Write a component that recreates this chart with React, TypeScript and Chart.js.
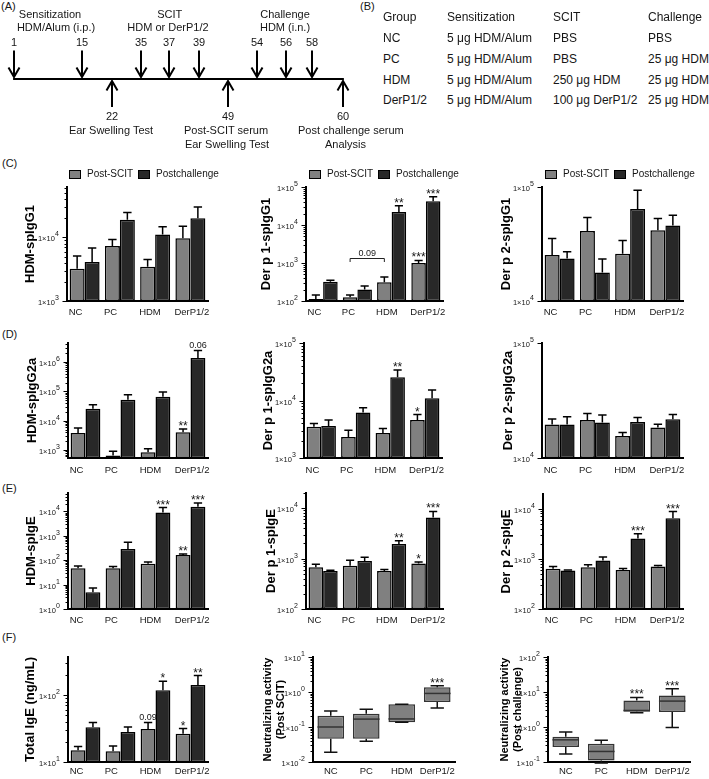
import React, { useEffect, useRef } from 'react';
import { Chart, registerables } from 'chart.js';

Chart.register(...registerables);

const FONT = '"Liberation Sans", Arial, Helvetica, sans-serif';
const GRAY = '#808080';
const DARK = '#282828';
const INK = '#161616';

// ---------------- data ----------------
const groups = ['NC', 'PC', 'HDM', 'DerP1/2'];
const seriesNames = ['Post-SCIT', 'Postchallenge'];

// (A) timeline (schematic, not to scale)
const timelineDays = [1, 15, 22, 35, 37, 39, 49, 54, 56, 58, 60];
const timelineSlots = [0, 2.31, 3.33, 4.32, 5.27, 6.29, 7.28, 8.27, 9.25, 10.14, 11.19];
const timelineDirs = ['down', 'down', 'up', 'down', 'down', 'down', 'up', 'down', 'down', 'down', 'up'];

// (B) table
const tableHeader = ['Group', 'Sensitization', 'SCIT', 'Challenge'];
const tableRows = [
  ['NC', '5 μg HDM/Alum', 'PBS', 'PBS'],
  ['PC', '5 μg HDM/Alum', 'PBS', '25 μg HDM'],
  ['HDM', '5 μg HDM/Alum', '250 μg HDM', '25 μg HDM'],
  ['DerP1/2', '5 μg HDM/Alum', '100 μg DerP1/2', '25 μg HDM'],
];

// (C) IgG1
const hdmIgG1Post = [3200, 7300, 3450, 9700];
const hdmIgG1PostErr = [5100, 9300, 4500, 15000];
const hdmIgG1Chal = [4100, 19000, 11100, 20000];
const hdmIgG1ChalErr = [6800, 24600, 14700, 30000];

const derp1IgG1Post = [113, 125, 310, 1000];
const derp1IgG1PostErr = [144, 144, 430, 1170];
const derp1IgG1Chal = [320, 200, 22000, 42000];
const derp1IgG1ChalErr = [350, 248, 32000, 55000];

const derp2IgG1Post = [25300, 41200, 26000, 41800];
const derp2IgG1PostErr = [35400, 54000, 34000, 53000];
const derp2IgG1Chal = [23600, 17800, 64000, 46000];
const derp2IgG1ChalErr = [27000, 23300, 93500, 56500];

// (D) IgG2a
const hdmIgG2aPost = [3800, 650, 830, 4000];
const hdmIgG2aPostErr = [5600, 900, 1100, 5200];
const hdmIgG2aChal = [25700, 52000, 66000, 1380000];
const hdmIgG2aChalErr = [35000, 77000, 95000, 2500000];

const derp1IgG2aPost = [3500, 2330, 2730, 4570];
const derp1IgG2aPostErr = [4000, 3050, 3260, 5700];
const derp1IgG2aChal = [3600, 6200, 25400, 10900];
const derp1IgG2aChalErr = [4600, 7500, 34000, 15200];

const derp2IgG2aPost = [19600, 21400, 15500, 18400];
const derp2IgG2aPostErr = [21800, 24400, 16700, 19700];
const derp2IgG2aChal = [19600, 20400, 20600, 21700];
const derp2IgG2aChalErr = [22800, 23600, 22500, 23900];

// (E) IgE
const hdmIgEPost = [47, 47, 71, 164];
const hdmIgEPostErr = [58, 55, 85, 181];
const hdmIgEChal = [4.9, 290, 9100, 15400];
const hdmIgEChalErr = [7.2, 540, 14500, 22400];

const derp1IgEPost = [670, 720, 570, 800];
const derp1IgEPostErr = [770, 930, 610, 860];
const derp1IgEChal = [570, 900, 1950, 6500];
const derp1IgEChalErr = [590, 1060, 2270, 8600];

const derp2IgEPost = [630, 680, 600, 700];
const derp2IgEPostErr = [700, 760, 640, 736];
const derp2IgEChal = [585, 925, 2530, 6450];
const derp2IgEChalErr = [600, 1080, 3140, 8700];

// (F) total IgE and neutralizing activity
const totalIgEPost = [15, 14.5, 31, 26.5];
const totalIgEPostErr = [17, 17.4, 39, 31.6];
const totalIgEChal = [33, 28, 118, 141];
const totalIgEChalErr = [39, 33.4, 161, 195];

const neutScitMin = [0.019, 0.039, 0.137, 0.35];
const neutScitQ1 = [0.046, 0.046, 0.137, 0.52];
const neutScitMed = [0.1, 0.168, 0.17, 0.91];
const neutScitQ3 = [0.21, 0.24, 0.45, 1.36];
const neutScitMax = [0.285, 0.32, 0.45, 1.5];

const neutChalMin = [0.17, 0.093, 2.57, 0.97];
const neutChalQ1 = [0.27, 0.11, 2.74, 2.7];
const neutChalMed = [0.43, 0.2, 2.97, 5.5];
const neutChalQ3 = [0.53, 0.33, 5.7, 7.9];
const neutChalMax = [0.72, 0.42, 7.0, 12.3];

// significance marks: [group, series, text]
const derp1IgG1Marks = [[2, 1, '**'], [3, 1, '***'], [3, 0, '***']];
const hdmIgG2aMarks = [[3, 0, '**'], [3, 1, '0.06']];
const derp1IgG2aMarks = [[2, 1, '**'], [3, 0, '*']];
const hdmIgEMarks = [[2, 1, '***'], [3, 1, '***'], [3, 0, '**']];
const derp1IgEMarks = [[2, 1, '**'], [3, 0, '*'], [3, 1, '***']];
const derp2IgEMarks = [[2, 1, '***'], [3, 1, '***']];
const totalIgEMarks = [[2, 0, '0.09'], [2, 1, '*'], [3, 0, '*'], [3, 1, '**']];
const neutScitMarks = [[3, '***']];
const neutChalMarks = [[2, '***'], [3, '***']];

// ---------------- layout specs ----------------
const barPanels = [
  { key: 'c1', canvas: [0, 171, 218, 151], plot: [67, 187, 208, 301], titleX: 30, titleSize: 13, title: 'HDM-spIgG1',
    min: 1e3, max: 6.2e4, minor: true, xPad: 6, post: hdmIgG1Post, postErr: hdmIgG1PostErr, chal: hdmIgG1Chal, chalErr: hdmIgG1ChalErr, marks: [] },
  { key: 'c2', canvas: [235, 171, 218, 151], plot: [306, 187, 443, 301], titleX: 266.7, titleSize: 13, title: 'Der p 1-spIgG1',
    min: 1e2, max: 1e5, minor: true, xPad: 6, post: derp1IgG1Post, postErr: derp1IgG1PostErr, chal: derp1IgG1Chal, chalErr: derp1IgG1ChalErr, marks: derp1IgG1Marks,
    bracket: { from: 1, to: 2, value: 1346, text: '0.09' } },
  { key: 'c3', canvas: [470, 171, 223, 151], plot: [542, 187, 683, 301], titleX: 506.7, titleSize: 13, title: 'Der p 2-spIgG1',
    min: 1e4, max: 1e5, minor: false, xPad: 6, post: derp2IgG1Post, postErr: derp2IgG1PostErr, chal: derp2IgG1Chal, chalErr: derp2IgG1ChalErr, marks: [] },
  { key: 'd1', canvas: [0, 327, 218, 151], plot: [68, 343, 208, 458], titleX: 32, titleSize: 13, title: 'HDM-spIgG2a',
    min: 533, max: 4.5e6, minor: true, xPad: 7, post: hdmIgG2aPost, postErr: hdmIgG2aPostErr, chal: hdmIgG2aChal, chalErr: hdmIgG2aChalErr, marks: hdmIgG2aMarks },
  { key: 'd2', canvas: [235, 327, 218, 151], plot: [304, 343, 442, 458], titleX: 268, titleSize: 13, title: 'Der p 1-spIgG2a',
    min: 1e3, max: 1e5, minor: true, xPad: 7, post: derp1IgG2aPost, postErr: derp1IgG2aPostErr, chal: derp1IgG2aChal, chalErr: derp1IgG2aChalErr, marks: derp1IgG2aMarks },
  { key: 'd3', canvas: [470, 327, 223, 151], plot: [542, 343, 683, 458], titleX: 508, titleSize: 13, title: 'Der p 2-spIgG2a',
    min: 1e4, max: 1e5, minor: false, xPad: 7, post: derp2IgG2aPost, postErr: derp2IgG2aPostErr, chal: derp2IgG2aChal, chalErr: derp2IgG2aChalErr, marks: [] },
  { key: 'e1', canvas: [0, 477, 218, 153], plot: [68, 493, 208, 609], titleX: 31.7, titleSize: 13, title: 'HDM-spIgE',
    min: 1, max: 5.7e4, minor: true, xPad: 6, post: hdmIgEPost, postErr: hdmIgEPostErr, chal: hdmIgEChal, chalErr: hdmIgEChalErr, marks: hdmIgEMarks },
  { key: 'e2', canvas: [235, 477, 218, 153], plot: [306, 493, 443, 609], titleX: 271.7, titleSize: 13, title: 'Der p 1-spIgE',
    min: 1e2, max: 2e4, minor: true, xPad: 6, post: derp1IgEPost, postErr: derp1IgEPostErr, chal: derp1IgEChal, chalErr: derp1IgEChalErr, marks: derp1IgEMarks },
  { key: 'e3', canvas: [470, 477, 223, 153], plot: [543, 494, 683, 609], titleX: 506.7, titleSize: 13, title: 'Der p 2-spIgE',
    min: 1e2, max: 1.95e4, minor: true, xPad: 6, post: derp2IgEPost, postErr: derp2IgEPostErr, chal: derp2IgEChal, chalErr: derp2IgEChalErr, marks: derp2IgEMarks },
  { key: 'f1', canvas: [0, 641, 218, 138], plot: [68, 657, 208, 762], titleX: 30, titleSize: 13, title: 'Total IgE (ng/mL)',
    min: 10, max: 370, minor: true, xPad: 4, post: totalIgEPost, postErr: totalIgEPostErr, chal: totalIgEChal, chalErr: totalIgEChalErr, marks: totalIgEMarks },
];

const boxPanels = [
  { key: 'f2', canvas: [235, 641, 230, 138], plot: [313, 657, 455, 762], titleX: 268, titleSize: 11, title: ['Neutralizing activity', '(Post SCIT)'],
    min: 0.01, max: 10, minor: true, xPad: 4, mins: neutScitMin, q1: neutScitQ1, med: neutScitMed, q3: neutScitQ3, maxs: neutScitMax, marks: neutScitMarks },
  { key: 'f3', canvas: [470, 641, 230, 138], plot: [548, 657, 690, 762], titleX: 505, titleSize: 11, title: ['Neutralizing activity', '(Post challenge)'],
    min: 0.1, max: 100, minor: true, xPad: 4, mins: neutChalMin, q1: neutChalQ1, med: neutChalMed, q3: neutChalQ3, maxs: neutChalMax, marks: neutChalMarks },
];

// ---------------- plugins ----------------
function drawLogAxis(chart: any, minor: boolean) {
  const ys = chart.scales.y;
  const ctx = chart.ctx;
  const ax = chart.chartArea.left;
  const lo = Math.floor(Math.log10(ys.min) + 1e-9);
  const hi = Math.ceil(Math.log10(ys.max) - 1e-9);
  ctx.save();
  ctx.strokeStyle = '#000';
  ctx.fillStyle = INK;
  ctx.lineWidth = 1;
  for (let e = lo; e <= hi; e++) {
    for (let m = 1; m <= 9; m++) {
      const v = m * Math.pow(10, e);
      if (v < ys.min * 0.9999 || v > ys.max * 1.0001) continue;
      const major = m === 1;
      if (!major && !minor) continue;
      const py = Math.round(ys.getPixelForValue(v)) + 0.5;
      ctx.beginPath();
      ctx.moveTo(ax - (major ? 4.5 : 2.5), py);
      ctx.lineTo(ax, py);
      ctx.stroke();
      if (major) {
        const sup = String(e);
        ctx.textAlign = 'right';
        ctx.textBaseline = 'middle';
        ctx.font = `7px ${FONT}`;
        const sw = ctx.measureText(sup).width;
        const r = ax - 8;
        ctx.fillText(sup, r, py - 3.5);
        ctx.font = `7.5px ${FONT}`;
        ctx.fillText('1×10', r - sw - 0.3, py + 1.5);
      }
    }
  }
  ctx.restore();
}

function drawMark(ctx: any, text: string, x: number, y: number) {
  const isStar = text.indexOf('*') >= 0;
  ctx.font = isStar ? `12px ${FONT}` : `9px ${FONT}`;
  ctx.textAlign = 'center';
  ctx.textBaseline = 'alphabetic';
  ctx.fillStyle = INK;
  ctx.fillText(text, x, isStar ? y + 1 : y - 2.5);
}

function barPlugin(spec: any) {
  return {
    id: 'barDecor',
    afterDatasetsDraw(chart: any) {
      const ys = chart.scales.y;
      const ctx = chart.ctx;
      const errs = [spec.postErr, spec.chalErr];
      ctx.save();
      ctx.strokeStyle = '#000';
      ctx.lineWidth = 1.5;
      for (let d = 0; d < 2; d++) {
        const meta = chart.getDatasetMeta(d);
        meta.data.forEach((el: any, i: number) => {
          const ey = ys.getPixelForValue(errs[d][i]);
          const hw = el.width * 0.28;
          ctx.beginPath();
          ctx.moveTo(el.x, el.y);
          ctx.lineTo(el.x, ey);
          ctx.moveTo(el.x - hw, ey);
          ctx.lineTo(el.x + hw, ey);
          ctx.stroke();
        });
      }
      spec.marks.forEach((mk: any) => {
        const [g, s, t] = mk;
        const el = chart.getDatasetMeta(s).data[g];
        drawMark(ctx, t, el.x, ys.getPixelForValue(errs[s][g]));
      });
      if (spec.bracket) {
        const { from, to, value, text } = spec.bracket;
        const m0 = chart.getDatasetMeta(0).data;
        const xa = m0[from].x;
        const xb = m0[to].x;
        const by = Math.round(ys.getPixelForValue(value)) + 0.5;
        ctx.lineWidth = 1;
        ctx.strokeStyle = '#222';
        ctx.beginPath();
        ctx.moveTo(xa, by + 3.5);
        ctx.lineTo(xa, by);
        ctx.lineTo(xb, by);
        ctx.lineTo(xb, by + 3.5);
        ctx.stroke();
        ctx.font = `9px ${FONT}`;
        ctx.textAlign = 'center';
        ctx.textBaseline = 'alphabetic';
        ctx.fillStyle = INK;
        ctx.fillText(text, (xa + xb) / 2, by - 2.5);
      }
      ctx.restore();
    },
    afterDraw(chart: any) {
      drawLogAxis(chart, spec.minor);
    },
  };
}

function boxPlugin(spec: any) {
  return {
    id: 'boxDecor',
    afterDatasetsDraw(chart: any) {
      const ys = chart.scales.y;
      const ctx = chart.ctx;
      ctx.save();
      const meta = chart.getDatasetMeta(0);
      meta.data.forEach((el: any, i: number) => {
        const x = el.x;
        const w = el.width;
        const cap = w * 0.25;
        const yMax = ys.getPixelForValue(spec.maxs[i]);
        const yMin = ys.getPixelForValue(spec.mins[i]);
        const yQ3 = ys.getPixelForValue(spec.q3[i]);
        const yQ1 = ys.getPixelForValue(spec.q1[i]);
        const yMed = ys.getPixelForValue(spec.med[i]);
        ctx.strokeStyle = '#111';
        ctx.lineWidth = 1.5;
        ctx.beginPath();
        ctx.moveTo(x, yQ3);
        ctx.lineTo(x, yMax);
        ctx.moveTo(x - cap, yMax);
        ctx.lineTo(x + cap, yMax);
        ctx.moveTo(x, yQ1);
        ctx.lineTo(x, yMin);
        ctx.moveTo(x - cap, yMin);
        ctx.lineTo(x + cap, yMin);
        ctx.stroke();
        ctx.strokeStyle = '#333';
        ctx.beginPath();
        ctx.moveTo(x - w / 2, yMed);
        ctx.lineTo(x + w / 2, yMed);
        ctx.stroke();
      });
      spec.marks.forEach((mk: any) => {
        const [g, t] = mk;
        const el = meta.data[g];
        drawMark(ctx, t, el.x, ys.getPixelForValue(spec.maxs[g]));
      });
      ctx.restore();
    },
    afterDraw(chart: any) {
      drawLogAxis(chart, spec.minor);
    },
  };
}

// ---------------- config builders ----------------
function scaleOptions(spec: any, labelAlignStart: boolean, labelOffset: number) {
  const [cx, cy, cw, ch] = spec.canvas;
  const [L, T, R, B] = spec.plot;
  const lh = spec.titleSize * 1.2;
  const padLeft = spec.titleX - lh / 2 - cx;
  const yW = L - cx - padLeft;
  const xH = cy + ch - B;
  return {
    responsive: false,
    maintainAspectRatio: false,
    animation: false,
    devicePixelRatio: 1,
    events: [],
    layout: { padding: { left: padLeft, top: T - cy, right: cx + cw - R, bottom: 0 } },
    plugins: { legend: { display: false }, tooltip: { enabled: false } },
    scales: {
      x: {
        type: 'category',
        grid: { display: false, drawTicks: false },
        border: { display: true, color: '#000', width: 2 },
        ticks: {
          font: { family: FONT, size: 9.5 },
          color: INK,
          padding: spec.xPad,
          maxRotation: 0,
          autoSkip: false,
          align: labelAlignStart ? 'start' : 'center',
          labelOffset,
        },
        afterFit: (s: any) => {
          s.height = xH;
          s.paddingLeft = 0;
          s.paddingRight = 0;
        },
      },
      y: {
        type: 'logarithmic',
        min: spec.min,
        max: spec.max,
        grid: { display: false, drawTicks: false },
        border: { display: true, color: '#000', width: 2 },
        ticks: { display: false },
        title: {
          display: true,
          text: spec.title,
          font: { family: FONT, size: spec.titleSize, weight: 'bold' },
          color: '#000',
          padding: 0,
        },
        afterFit: (s: any) => {
          s.width = yW;
          s.paddingTop = 0;
          s.paddingBottom = 0;
        },
      },
    },
  };
}

function buildBar(spec: any) {
  const [L, , R] = spec.plot;
  const catPct = 0.85;
  const catW = (R - L) / groups.length;
  const common = { borderColor: '#000', borderWidth: 1.5, borderSkipped: false, categoryPercentage: catPct, barPercentage: 1 };
  return {
    type: 'bar',
    data: {
      labels: groups,
      datasets: [
        { label: seriesNames[0], data: spec.post, backgroundColor: GRAY, ...common },
        { label: seriesNames[1], data: spec.chal, backgroundColor: DARK, ...common },
      ],
    },
    options: scaleOptions(spec, true, -(catW * catPct) / 2 - 1),
    plugins: [barPlugin(spec)],
  };
}

function buildBox(spec: any) {
  return {
    type: 'bar',
    data: {
      labels: groups,
      datasets: [
        {
          label: 'box',
          data: spec.q1.map((v: number, i: number) => [v, spec.q3[i]]),
          backgroundColor: GRAY,
          borderColor: '#333',
          borderWidth: 1.5,
          borderSkipped: false,
          categoryPercentage: 1,
          barPercentage: 0.75,
        },
      ],
    },
    options: scaleOptions(spec, false, 0),
    plugins: [boxPlugin(spec)],
  };
}

const timelinePlugin = {
  id: 'timeline',
  afterDraw(chart: any) {
    const xs = chart.scales.x;
    const ys = chart.scales.y;
    const ctx = chart.ctx;
    const y0 = ys.getPixelForValue(0);
    ctx.save();
    ctx.strokeStyle = '#000';
    ctx.lineWidth = 1.8;
    const xa = xs.getPixelForValue(timelineSlots[0]);
    const xb = xs.getPixelForValue(timelineSlots[timelineSlots.length - 1]);
    ctx.beginPath();
    ctx.moveTo(xa - 0.9, y0);
    ctx.lineTo(xb + 0.9, y0);
    ctx.stroke();
    ctx.font = `11px ${FONT}`;
    ctx.fillStyle = INK;
    ctx.textAlign = 'center';
    ctx.textBaseline = 'middle';
    ctx.lineWidth = 2;
    ctx.lineJoin = 'miter';
    timelineSlots.forEach((s, i) => {
      const x = Math.round(xs.getPixelForValue(s));
      ctx.beginPath();
      if (timelineDirs[i] === 'down') {
        ctx.moveTo(x, y0 - 28.5);
        ctx.lineTo(x, y0 - 2);
        ctx.moveTo(x - 5.5, y0 - 11.5);
        ctx.lineTo(x, y0 - 2);
        ctx.lineTo(x + 5.5, y0 - 11.5);
        ctx.stroke();
        ctx.fillText(String(timelineDays[i]), x, y0 - 36);
      } else {
        ctx.moveTo(x, y0 + 28);
        ctx.lineTo(x, y0 + 2);
        ctx.moveTo(x - 5.5, y0 + 11.5);
        ctx.lineTo(x, y0 + 2);
        ctx.lineTo(x + 5.5, y0 + 11.5);
        ctx.stroke();
        ctx.fillText(String(timelineDays[i]), x, y0 + 38);
      }
    });
    ctx.restore();
  },
};

function buildTimeline() {
  return {
    type: 'scatter',
    data: { datasets: [{ data: timelineSlots.map((s) => ({ x: s, y: 0 })), pointRadius: 0 }] },
    options: {
      responsive: false,
      animation: false,
      devicePixelRatio: 1,
      events: [],
      layout: { padding: 0 },
      plugins: { legend: { display: false }, tooltip: { enabled: false } },
      scales: {
        x: { type: 'linear', display: false, min: -0.476, max: 11.769 },
        y: { type: 'linear', display: false, min: -1, max: 1 },
      },
    },
    plugins: [timelinePlugin],
  };
}

// ---------------- components ----------------
function ChartCanvas({ rect, build }: { rect: number[]; build: () => any }) {
  const ref = useRef<HTMLCanvasElement | null>(null);
  useEffect(() => {
    if (!ref.current) return;
    const chart = new Chart(ref.current, build() as any);
    return () => chart.destroy();
  }, []);
  const [x, y, w, h] = rect;
  return (
    <div style={{ position: 'absolute', left: x, top: y, width: w, height: h }}>
      <canvas ref={ref} width={w} height={h} style={{ display: 'block', width: w, height: h }} />
    </div>
  );
}

function Txt({ x, y, children, size = 11, align = 'center', bold = false }: any) {
  const tx = align === 'center' ? '-50%' : align === 'right' ? '-100%' : '0';
  return (
    <div
      style={{
        position: 'absolute',
        left: x,
        top: y,
        transform: `translate(${tx}, -50%)`,
        whiteSpace: 'nowrap',
        fontSize: size,
        lineHeight: 1,
        fontFamily: FONT,
        color: INK,
        fontWeight: bold ? 700 : 400,
      }}
    >
      {children}
    </div>
  );
}

function Legend({ x, y }: { x: number; y: number }) {
  const box = (left: number, bg: string) => (
    <div
      style={{
        position: 'absolute',
        left,
        top: y - 4.5,
        width: 12,
        height: 9,
        background: bg,
        border: '1px solid #000',
        boxSizing: 'border-box',
      }}
    />
  );
  return (
    <>
      {box(x, GRAY)}
      <Txt x={x + 18} y={y} size={10} align="left">{seriesNames[0]}</Txt>
      {box(x + 69, DARK)}
      <Txt x={x + 87} y={y} size={10} align="left">{seriesNames[1]}</Txt>
    </>
  );
}

const tableCols = [383, 447, 553, 648];
const tableRowY = [38, 59, 79.5, 100];

export default function App() {
  return (
    <div
      style={{
        position: 'absolute',
        left: 0,
        top: 0,
        width: 709,
        height: 779,
        overflow: 'hidden',
        background: '#fff',
        fontFamily: FONT,
      }}
    >
      {/* panel labels */}
      <Txt x={1} y={6} align="left">(A)</Txt>
      <Txt x={360} y={6} align="left">(B)</Txt>
      <Txt x={2} y={163} align="left">(C)</Txt>
      <Txt x={2} y={334} align="left">(D)</Txt>
      <Txt x={2} y={488} align="left">(E)</Txt>
      <Txt x={2} y={637} align="left">(F)</Txt>

      {/* (A) timeline */}
      <ChartCanvas rect={[0, 4, 360, 150]} build={buildTimeline} />
      <Txt x={50} y={13.5}>Sensitization</Txt>
      <Txt x={56} y={27}>HDM/Alum (i.p.)</Txt>
      <Txt x={169.7} y={13.5}>SCIT</Txt>
      <Txt x={168} y={27}>HDM or DerP1/2</Txt>
      <Txt x={285} y={13.5}>Challenge</Txt>
      <Txt x={285} y={27}>HDM (i.n.)</Txt>
      <Txt x={111} y={129.5}>Ear Swelling Test</Txt>
      <Txt x={226} y={129.5}>Post-SCIT serum</Txt>
      <Txt x={227} y={143.5}>Ear Swelling Test</Txt>
      <Txt x={298} y={129.5} align="left">Post challenge serum</Txt>
      <Txt x={325} y={143.5} align="left">Analysis</Txt>

      {/* (B) table */}
      {tableHeader.map((h, i) => (
        <Txt key={'h' + i} x={tableCols[i]} y={17} size={12} align="left">{h}</Txt>
      ))}
      {tableRows.map((row, r) =>
        row.map((cell, c) => (
          <Txt key={'r' + r + c} x={tableCols[c]} y={tableRowY[r]} size={12} align="left">{cell}</Txt>
        ))
      )}

      {/* legends */}
      <Legend x={69} y={174} />
      <Legend x={309} y={174} />
      <Legend x={545} y={174} />

      {barPanels.map((p) => (
        <ChartCanvas key={p.key} rect={p.canvas} build={() => buildBar(p)} />
      ))}
      {boxPanels.map((p) => (
        <ChartCanvas key={p.key} rect={p.canvas} build={() => buildBox(p)} />
      ))}
    </div>
  );
}
